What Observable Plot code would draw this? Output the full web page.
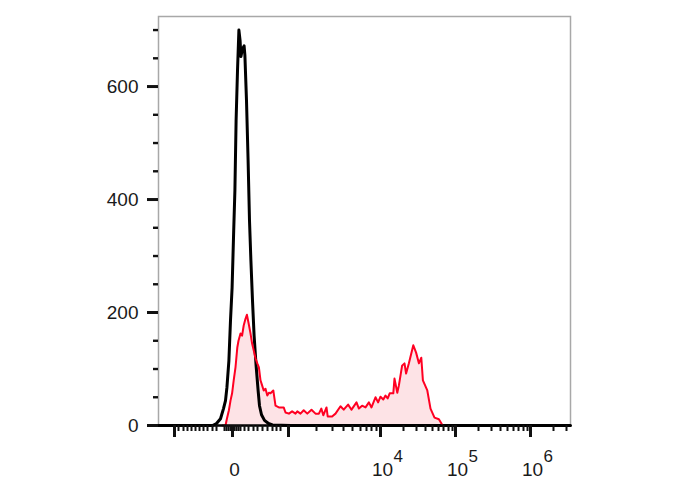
<!DOCTYPE html>
<html>
<head>
<meta charset="utf-8">
<script src="https://cdn.jsdelivr.net/npm/d3@7"></script>
<script src="https://cdn.jsdelivr.net/npm/@observablehq/plot@0.6"></script>
<style>
  html, body { margin: 0; padding: 0; background: #fff; }
  #chart { width: 688px; height: 490px; }
</style>
</head>
<body>
<div id="chart"></div>
<script>
// Display channels (biexponential display axis, 0–1030) and event counts
const blackChannel = [0, 105, 135, 145, 155, 162.5, 167.5, 171, 176, 180, 184, 188, 191, 194, 197.5, 201, 204, 206, 210, 214, 216, 220, 224, 227.5, 231, 235, 239, 244, 249, 252.5, 257.5, 265, 275, 285, 330, 1030];
const blackCount   = [0, 0, 0, 3.5, 12, 30, 44, 67, 115, 186, 244, 345, 416, 540, 628, 700, 681, 653, 667, 672, 655, 575, 469, 363, 292, 221, 159, 106, 62, 35, 19, 9, 3.5, 1, 0, 0];

const redChannel = [160, 167.5, 171, 176, 180, 184, 188, 192.5, 197, 200, 205, 209, 213, 217.5, 221, 225, 230, 234, 238, 242.5, 247, 251, 255, 259, 263, 267.5, 272, 276, 280, 287, 292.5, 301, 313, 317.5, 326, 334, 342.5, 347, 355, 363, 372, 382.5, 392.5, 401, 407, 412, 420, 423, 434, 442.5, 455, 463, 474, 482.5, 495, 501, 509, 517.5, 526, 532.5, 542.5, 549, 555, 562, 567.5, 573, 578, 587, 590, 597, 601, 609, 615, 619, 626, 637, 644, 651, 657, 661, 672, 680, 690, 701, 707, 710];
const redCount   = [0, 0, 12, 27, 44, 57, 80, 103, 138, 150, 163, 159, 177, 189, 196, 182, 163, 145, 133, 119, 110, 103, 80, 71, 62, 65, 53, 58, 57, 62, 35, 32, 32, 23, 21, 25, 21, 25, 21, 27, 21, 28, 21, 21, 30, 18, 32, 16, 16, 21, 34, 28, 37, 28, 41, 30, 35, 32, 41, 32, 50, 41, 51, 46, 53, 48, 57, 57, 83, 58, 71, 106, 110, 92, 110, 142, 129, 110, 120, 80, 62, 30, 14, 11, 4, 0];

// Axis ticks
const yMajorTicks = [0, 200, 400, 600];
const yMinorTicks = [50, 100, 150, 250, 300, 350, 450, 500, 550, 650, 700];
const xMajorTicks = [40, 185, 325, 555, 742.5, 930];
const xMinorTicks = [50, 62.5, 72.5, 82.5, 92.5, 102.5, 112.5, 122.5, 135, 145,
  165, 170, 175, 180, 190, 195, 200, 205,
  215, 225, 237.5, 247.5, 260, 272.5, 285, 295, 305,
  395, 435, 462.5, 485, 505, 520, 532.5, 545,
  612.5, 645, 667.5, 685, 700, 712.5, 725, 735,
  800, 832.5, 855, 872.5, 887.5, 900, 912.5, 922.5,
  987.5, 1020];
const xLabelPos  = [185, 555, 742.5, 930];
const xLabelBase = ["0", "10", "10", "10"];
const xLabelExp  = ["", "4", "5", "6"];

const black = blackChannel.map((c, i) => ({c, n: blackCount[i]}));
const red = redChannel.map((c, i) => ({c, n: redCount[i]}));
const xLabels = xLabelPos.map((c, i) => ({c, base: xLabelBase[i], exp: xLabelExp[i]}));

const chart = Plot.plot({
  width: 688,
  height: 490,
  marginLeft: 158,
  marginRight: 118,
  marginTop: 16,
  marginBottom: 65,
  style: {fontFamily: "'Liberation Sans', Arial, sans-serif", fontSize: "19px", color: "#111", background: "#fff", overflow: "visible"},
  x: {type: "linear", domain: [0, 1030], axis: null},
  y: {type: "linear", domain: [0, 724], axis: null},
  marks: [
    Plot.frame({stroke: "#a8a8a8", strokeWidth: 1.5}),
    Plot.areaY(red, {x: "c", y: "n", fill: "#fde3e6"}),
    Plot.lineY(black, {x: "c", y: "n", stroke: "#000", strokeWidth: 3}),
    Plot.lineY(red, {x: "c", y: "n", stroke: "#ff0022", strokeWidth: 2}),
    Plot.ruleY([0], {stroke: "#000", strokeWidth: 2.4}),
    Plot.axisY({ticks: yMajorTicks, tickSize: 11, tickPadding: 9, strokeWidth: 3, label: null, fill: "#1a1a1a", fontSize: 19}),
    Plot.axisY({ticks: yMinorTicks, tickSize: 5, strokeWidth: 2.4, label: null, tickFormat: () => ""}),
    Plot.axisX({ticks: xMajorTicks, tickSize: 12, strokeWidth: 3, label: null, tickFormat: () => ""}),
    Plot.axisX({ticks: xMinorTicks, tickSize: 6, strokeWidth: 2, label: null, tickFormat: () => ""}),
    Plot.text(xLabels, {x: "c", text: "base", frameAnchor: "bottom", dy: 50, dx: 2, fontSize: 19, fill: "#1a1a1a"}),
    Plot.text(xLabels, {x: "c", text: "exp", frameAnchor: "bottom", dy: 36, dx: 13, textAnchor: "start", fontSize: 17, fill: "#1a1a1a"})
  ]
});
document.getElementById("chart").appendChild(chart);
</script>
</body>
</html>
